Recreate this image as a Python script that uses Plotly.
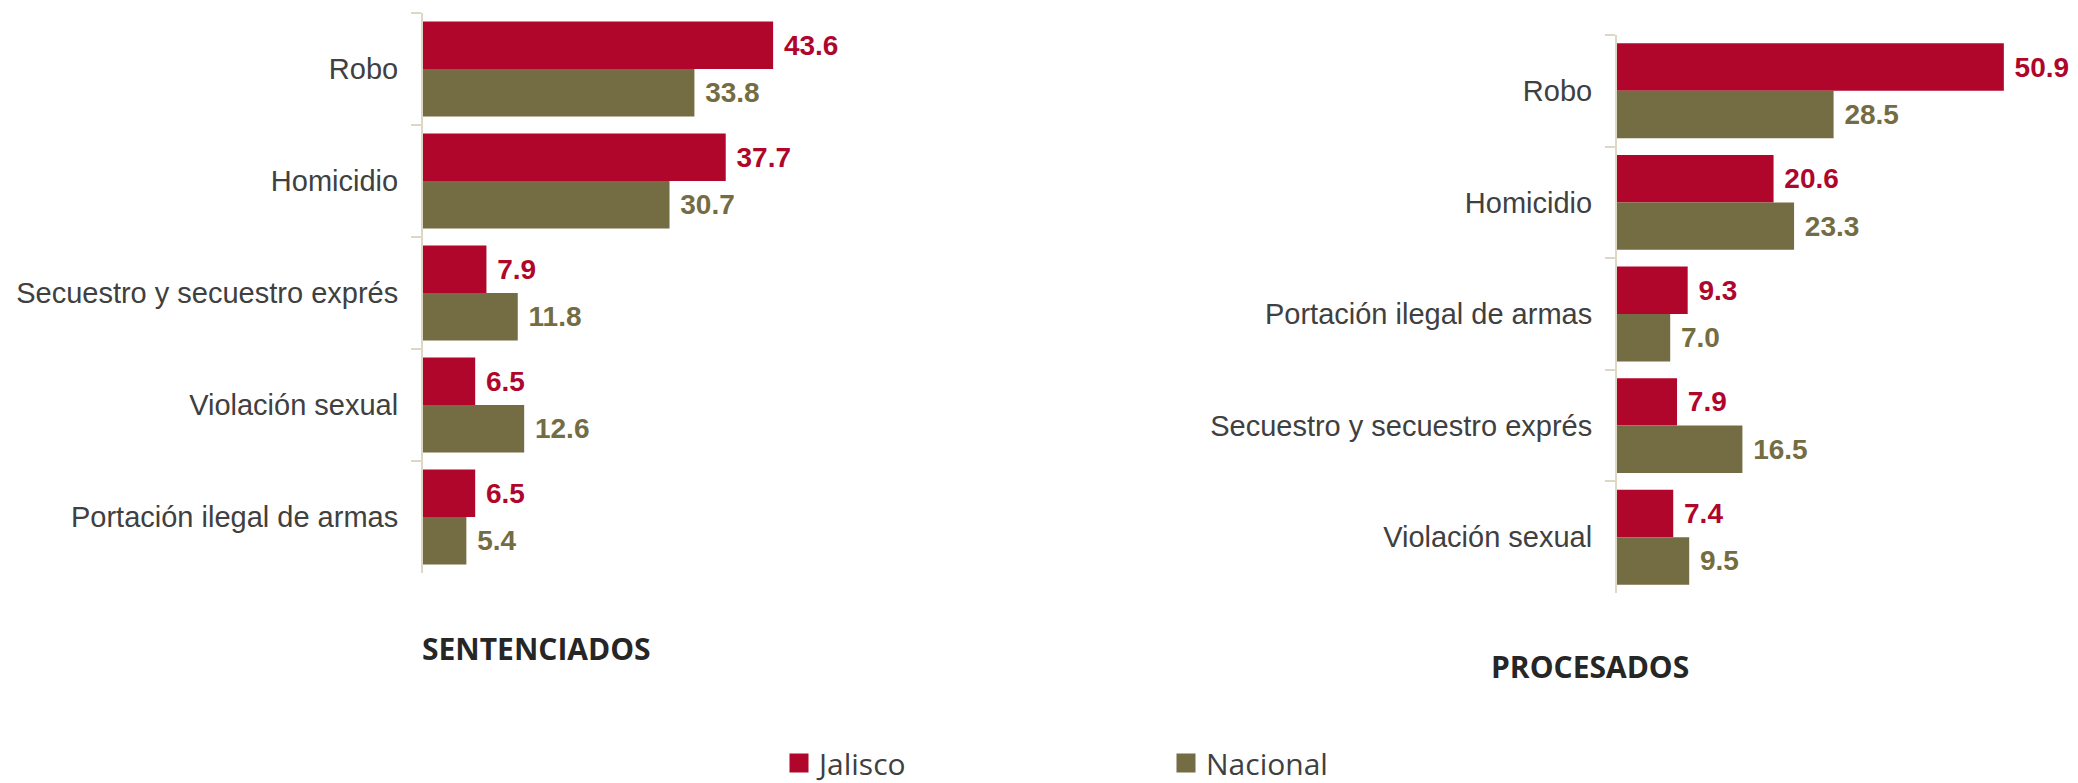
import plotly.graph_objects as go

W, H = 2078, 783

# ---- data ----
sent_categories = ["Robo", "Homicidio", "Secuestro y secuestro exprés",
                   "Violación sexual", "Portación ilegal de armas"]
sent_jalisco = [43.6, 37.7, 7.9, 6.5, 6.5]
sent_nacional = [33.8, 30.7, 11.8, 12.6, 5.4]

proc_categories = ["Robo", "Homicidio", "Portación ilegal de armas",
                   "Secuestro y secuestro exprés", "Violación sexual"]
proc_jalisco = [50.9, 20.6, 9.3, 7.9, 7.4]
proc_nacional = [28.5, 23.3, 7.0, 16.5, 9.5]

series_names = ["Jalisco", "Nacional"]
panel_titles = ["SENTENCIADOS", "PROCESADOS"]

RED = "#B0062C"
OLIVE = "#746C42"
AXIS_C = "#DDD8C4"
TXT = "#404040"


def fx(p):
    return p / W


def fy(p):
    return 1 - p / H


fig = go.Figure()

for cats, jal, nac, xa, ya in [
    (sent_categories, sent_jalisco, sent_nacional, "x", "y"),
    (proc_categories, proc_jalisco, proc_nacional, "x2", "y2"),
]:
    for name, vals, col in [(series_names[0], jal, RED), (series_names[1], nac, OLIVE)]:
        fig.add_trace(go.Bar(
            x=vals, y=cats, orientation="h", name=name,
            marker=dict(color=col, line=dict(width=0)),
            texttemplate="\u00a0%{x:.1f}", textposition="outside",
            textfont=dict(family="Liberation Sans, Arial, sans-serif", size=28, color=col,
                          weight="bold"),
            constraintext="none", cliponaxis=False,
            xaxis=xa, yaxis=ya, showlegend=False, hoverinfo="skip",
        ))

# legend entries
for name, col in [(series_names[0], RED), (series_names[1], OLIVE)]:
    fig.add_trace(go.Scatter(
        x=[None], y=[None], mode="markers", name=name,
        marker=dict(symbol="square", size=16, color=col, line=dict(color=col, width=3)),
        xaxis="x", yaxis="y", showlegend=True,
    ))

yaxis_common = dict(
    type="category", autorange="reversed", automargin=False,
    showline=True, linecolor=AXIS_C, linewidth=2,
    ticks="outside", tickson="boundaries", ticklen=10, tickcolor=AXIS_C, tickwidth=2,
    tickfont=dict(family="Liberation Sans, Arial, sans-serif", size=29, color=TXT),
    ticklabelstandoff=17,
    showgrid=False, zeroline=False,
)
xaxis_common = dict(visible=False, showgrid=False, zeroline=False, automargin=False)

left_x0, left_x1, left_scale = 423, 1040, 8.03
right_x0, right_x1, right_scale = 1617, 2078, 7.60

fig.update_layout(
    width=W, height=H,
    margin=dict(l=0, r=0, t=0, b=0, autoexpand=False),
    paper_bgcolor="white", plot_bgcolor="white",
    barmode="group", bargap=0.15, bargroupgap=0,
    xaxis=dict(domain=[fx(left_x0), fx(left_x1)],
               range=[0, (left_x1 - left_x0) / left_scale], anchor="y", **xaxis_common),
    yaxis=dict(domain=[fy(573), fy(13)], anchor="x", **yaxis_common),
    xaxis2=dict(domain=[fx(right_x0), fx(right_x1)],
                range=[0, (right_x1 - right_x0) / right_scale], anchor="y2", **xaxis_common),
    yaxis2=dict(domain=[fy(593), fy(35)], anchor="x2", **yaxis_common),
    showlegend=True,
    legend=dict(
        orientation="h", x=fx(779), xanchor="left", y=fy(763), yanchor="middle",
        font=dict(family="Open Sans, sans-serif", size=30, color=TXT),
        entrywidth=342, entrywidthmode="pixels",
        bgcolor="rgba(0,0,0,0)",
    ),
    annotations=[
        dict(text=panel_titles[0], x=fx(536), y=fy(648), xref="paper", yref="paper",
             showarrow=False, xanchor="center", yanchor="middle",
             font=dict(family="Open Sans, sans-serif", size=30, color="#262626", weight="bold")),
        dict(text=panel_titles[1], x=fx(1590), y=fy(666), xref="paper", yref="paper",
             showarrow=False, xanchor="center", yanchor="middle",
             font=dict(family="Open Sans, sans-serif", size=30, color="#262626", weight="bold")),
    ],
)

fig.write_html("out.html", config={"displayModeBar": False},
               post_script="document.body.style.margin='0';document.body.style.overflow='hidden';")
